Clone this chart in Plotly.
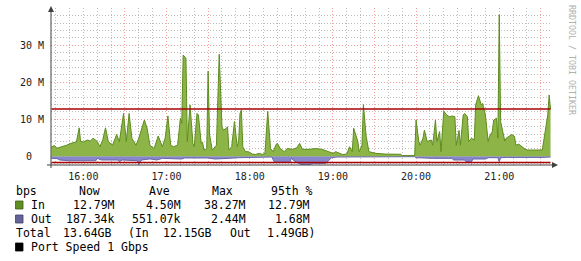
import plotly.graph_objects as go

DAY = "2024-01-01 "

# ---------------- data (Mbps) ----------------
in_times = ["15:37","15:39","15:41","15:43","15:46","15:48","15:51","15:53","15:55","15:57","15:58",
            "16:00","16:03","16:05","16:07","16:10","16:12","16:14","16:16","16:18","16:21","16:23","16:24",
            "16:26","16:27","16:29","16:31","16:33","16:35","16:38","16:40","16:42","16:44","16:46","16:48",
            "16:51","16:53","16:54","16:57","16:59",
            "17:01","17:03","17:05","17:08","17:10","17:11","17:12","17:14","17:15","17:17","17:19","17:20",
            "17:22","17:23","17:25","17:26","17:27","17:29","17:30","17:31","17:33","17:34","17:35","17:36",
            "17:38","17:40","17:41","17:43","17:44","17:45","17:47","17:48","17:49","17:51","17:52","17:53",
            "17:54","17:55","17:57","17:59",
            "18:02","18:04","18:07","18:09","18:11","18:13","18:15","18:17","18:19","18:20","18:22","18:25",
            "18:27","18:31","18:34","18:36","18:38","18:43","18:48","18:52","18:55","18:57",
            "19:00","19:02","19:07","19:10","19:12","19:14","19:15","19:18","19:19","19:21","19:22","19:24",
            "19:26","19:31","19:38","19:49","19:50","19:59",
            "20:00","20:02","20:03","20:05","20:06","20:08","20:11","20:12","20:14","20:15","20:17","20:18",
            "20:20","20:22","20:24","20:26","20:28","20:29","20:31","20:32","20:34","20:35","20:37","20:38",
            "20:40","20:42","20:43","20:45","20:47","20:48","20:50","20:52","20:53","20:55","20:56","20:58",
            "20:59",
            "21:00","21:01","21:04","21:05","21:07","21:09","21:11","21:12","21:14","21:16","21:18","21:20",
            "21:24","21:31","21:32","21:35","21:36","21:37"]
in_mbps = [2.5,2.9,2.2,2.4,2.6,3.0,3.5,3.8,3.9,7.7,4.0,
           3.9,4.4,4.1,4.9,4.0,2.6,4.5,7.7,4.0,3.0,4.9,5.9,
           4.0,6.5,11.6,4.0,11.6,4.9,3.0,4.9,7.6,9.8,7.6,3.0,
           2.1,4.0,5.5,2.6,4.9,
           10.9,3.0,2.6,3.0,10.3,8.9,27.4,26.5,4.0,13.9,3.5,2.6,
           11.6,11.2,3.5,3.8,1.7,2.0,23.0,6.0,1.7,2.0,2.6,3.0,
           27.6,8.0,7.1,7.5,8.0,1.7,2.6,7.1,9.4,2.6,4.0,11.6,
           12.5,2.6,1.25,1.25,
           0.6,0.5,0.8,0.5,0.8,12.2,2.1,1.25,3.2,3.5,2.1,1.25,
           2.1,1.9,2.3,3.5,1.9,1.9,2.1,1.9,1.6,1.25,
           0.8,1.25,0.5,0.6,2.6,1.25,7.6,4.0,1.25,3.0,14.0,5.4,
           1.25,0.8,0.6,0.55,0.2,0.2,
           9.8,4.0,3.0,4.9,7.1,4.0,4.4,3.0,9.8,4.0,6.7,1.25,
           12.2,11.2,10.7,10.9,10.7,3.0,7.0,3.0,11.2,11.6,10.7,4.0,
           4.9,4.4,13.9,16.4,13.9,14.3,11.2,4.0,5.4,6.7,9.8,10.3,
           4.9,
           38.27,9.4,4.1,4.9,5.4,5.9,5.4,3.0,3.3,2.6,2.15,1.7,
           1.7,1.7,4.0,11.2,16.6,12.79]

out_times = ["15:37","15:41","15:43","15:50","16:00","16:09","16:10","16:13","16:25","16:26","16:28",
             "16:39","16:40","16:42","16:48","16:53","16:57","17:07","17:11","17:13","17:30","17:35",
             "17:40","17:45","17:52","18:00","18:03","18:16","18:17","18:18","18:29","18:30","18:32",
             "18:37","18:41","18:44","18:46","18:55","18:59","19:03","19:37","19:59","20:00","20:12",
             "20:26","20:27","20:35","20:36","20:40","20:41","20:50","20:52","20:59","21:00","21:01",
             "21:06","21:31","21:37"]
out_mbps = [0.55,0.6,1.0,1.2,1.2,1.2,0.55,1.0,1.0,1.45,1.0,
            1.2,2.2,1.0,0.7,1.0,0.55,0.55,0.73,0.45,0.45,0.73,
            0.73,0.55,0.37,0.37,0.19,0.19,1.0,1.6,1.6,0.55,1.2,
            2.2,2.44,2.2,1.9,1.9,0.37,0.19,0.1,0.1,0.37,0.55,
            0.55,1.0,1.0,1.45,1.45,0.73,0.73,0.37,0.37,1.45,0.37,
            0.3,0.3,0.187]

in_95 = 12.79
out_95 = 1.68

legend_header = ["bps", "Now", "Ave", "Max", "95th %"]
in_stats = ["12.79M", "4.50M", "38.27M", "12.79M"]
out_stats = ["187.34k", "551.07k", "2.44M", "1.68M"]
total_row = ["Total", "13.64GB", "(In", "12.15GB", "Out", "1.49GB)"]
port_label = "Port Speed 1 Gbps"

hour_ticks = ["16:00","16:30","17:00","17:30","18:00","18:30","19:00","19:30",
              "20:00","20:30","21:00","21:30"]
y_tickvals = [0, 10, 20, 30]
y_ticktext = ["0\u00a0\u00a0", "10 M", "20 M", "30 M"]

# ---------------- styling ----------------
MONO = "DejaVu Sans Mono"
IN_FILL, IN_LINE, IN_BOX = "#8db446", "#5d8c1f", "#5f8f22"
OUT_FILL, OUT_LINE, OUT_BOX = "#8787cc", "#6666aa", "#646499"
P95 = "#aa0000"
AX = "#404040"

L, T, W, H = 51, 8, 500, 157
def px(x):
    return (x - L) / W
def py(y):
    return (T + H - y) / H

fig = go.Figure()
fig.add_trace(go.Scatter(
    x=[DAY + t for t in out_times], y=[-v for v in out_mbps], mode="lines",
    line=dict(color=OUT_LINE, width=1), fill="tozeroy", fillcolor=OUT_FILL,
    hoverinfo="skip"))
fig.add_trace(go.Scatter(
    x=[DAY + t for t in in_times], y=in_mbps, mode="lines",
    line=dict(color=IN_LINE, width=1), fill="tozeroy", fillcolor=IN_FILL,
    hoverinfo="skip"))

shapes = []
# 95th percentile lines
for yv in (in_95, -out_95):
    shapes.append(dict(type="line", xref="x", yref="y",
                       x0=DAY + in_times[0], x1=DAY + in_times[-1], y0=yv, y1=yv,
                       line=dict(color=P95, width=1.5)))
# axes with arrows
shapes.append(dict(type="line", xref="paper", yref="paper",
                   x0=px(47), x1=px(553), y0=py(165), y1=py(165), line=dict(color=AX, width=1)))
shapes.append(dict(type="path", xref="paper", yref="paper",
                   path=f"M {px(558)},{py(165)} L {px(552)},{py(162)} L {px(552)},{py(168)} Z",
                   fillcolor=AX, line=dict(color=AX, width=0)))
shapes.append(dict(type="line", xref="paper", yref="paper",
                   x0=px(51), x1=px(51), y0=py(168), y1=py(12), line=dict(color=AX, width=1)))
shapes.append(dict(type="path", xref="paper", yref="paper",
                   path=f"M {px(51)},{py(6)} L {px(48)},{py(12)} L {px(54)},{py(12)} Z",
                   fillcolor=AX, line=dict(color=AX, width=0)))
# legend boxes
for (yc, col, edge) in ((205, IN_BOX, "#3d5e14"), (219, OUT_BOX, "#40406a"), (247, "#000000", "#000000")):
    shapes.append(dict(type="rect", xref="paper", yref="paper",
                       x0=px(15.5), x1=px(23), y0=py(yc + 4), y1=py(yc - 4),
                       fillcolor=col, line=dict(color=edge, width=0.8)))

ann = []
def txt(x, y, s, anchor="left", size=11.5, color="#000000"):
    ann.append(dict(xref="paper", yref="paper", x=px(x), y=py(y), text=s, showarrow=False,
                    xanchor=anchor, yanchor="middle", borderpad=0, borderwidth=0,
                    font=dict(family=MONO, size=size, color=color)))

hx = [16, 79, 149, 212, 271]
for x, s in zip(hx, legend_header):
    txt(x, 191, s)
txt(30.7, 205, "In")
txt(30.7, 219, "Out")
rx = [115, 181, 245.5, 310]
for x, s in zip(rx, in_stats):
    txt(x, 205, s, anchor="right")
for x, s in zip(rx, out_stats):
    txt(x, 219, s, anchor="right")
tx = [16, 62.7, 128.3, 163.3, 230, 266.7]
for x, s in zip(tx, total_row):
    txt(x, 233, s)
txt(30.7, 247, port_label)

# watermark
ann.append(dict(xref="paper", yref="paper", x=px(572), y=py(60), text="RRDTOOL / TOBI OETIKER",
                showarrow=False, textangle=90, xanchor="center", yanchor="middle",
                borderpad=0, borderwidth=0, font=dict(family=MONO, size=8.3, color="#b0b0b0")))

hour_text = [t if t.endswith(":00") else "" for t in hour_ticks]

fig.update_layout(
    width=581, height=261,
    margin=dict(l=L, r=581 - L - W, t=T, b=261 - T - H, pad=0),
    paper_bgcolor="white", plot_bgcolor="white",
    showlegend=False,
    shapes=shapes, annotations=ann,
    xaxis=dict(
        type="date",
        range=[DAY + "15:36:40", DAY + "21:37:20"],
        tickmode="array", tickvals=[DAY + t for t in hour_ticks], ticktext=hour_text,
        tickfont=dict(family=MONO, size=10, color="#222222"),
        ticks="", ticklabelstandoff=4,
        showgrid=True, gridcolor="#f2a0a0", griddash="1px,2px", gridwidth=1,
        minor=dict(dtick=600000, tick0=DAY + "16:00", showgrid=True,
                   gridcolor="#bdbdbd", griddash="1px,2px", gridwidth=1, ticks=""),
        showline=False, zeroline=False, fixedrange=True,
    ),
    yaxis=dict(
        range=[-2.35, 40.1],
        tickmode="array", tickvals=y_tickvals, ticktext=y_ticktext,
        tickfont=dict(family=MONO, size=10, color="#222222"),
        ticks="", ticklabelstandoff=6,
        showgrid=True, gridcolor="#f2a0a0", griddash="1px,2px", gridwidth=1,
        minor=dict(dtick=2, tick0=0, showgrid=True,
                   gridcolor="#bdbdbd", griddash="1px,2px", gridwidth=1, ticks=""),
        showline=False, zeroline=False, fixedrange=True,
    ),
)

fig.write_html("out.html")
